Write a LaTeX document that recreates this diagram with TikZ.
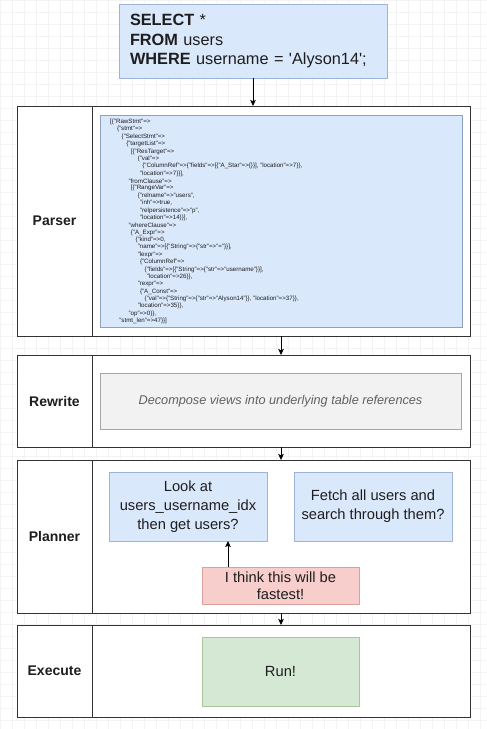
\documentclass[tikz,border=0pt]{standalone}
\usepackage{fontspec}
\setmainfont{Liberation Sans}
\usetikzlibrary{arrows.meta,calc}
\definecolor{blueF}{HTML}{DAE8FC}
\definecolor{blueD}{HTML}{9DB4D6}
\definecolor{redF}{HTML}{F8CECC}
\definecolor{redD}{HTML}{D9A09C}
\definecolor{greenF}{HTML}{D5E8D4}
\definecolor{greenD}{HTML}{A9C79B}
\definecolor{grayF}{HTML}{F2F2F2}
\definecolor{grayD}{HTML}{A6A6A6}
\definecolor{frameD}{HTML}{333333}
\definecolor{txt}{HTML}{1E1E1E}
\definecolor{gridC}{HTML}{F3F3F3}
\newcommand\astline[3]{\node[ast] (ast#2) at ({110+2.3*#1},{122+7.37*(#2-1)}) {#3};}
\begin{document}
\begin{tikzpicture}[x=1pt,y=-1pt,
  rbox/.style={anchor=north west, inner sep=0pt, outer sep=0pt, line width=0.7pt},
  frame/.style={rbox, draw=frameD, fill=white},
  area/.style={rbox, draw=none},
  bluebox/.style={rbox, draw=blueD, fill=blueF},
  redbox/.style={rbox, draw=redD, fill=redF},
  greenbox/.style={rbox, draw=greenD, fill=greenF},
  graybox/.style={rbox, draw=grayD, fill=grayF},
  boxtext/.style={font=\fontsize{14.7}{18.7}\selectfont, text=txt, align=center},
  lab/.style={font=\fontsize{14}{16}\selectfont\bfseries, text=txt},
  ast/.style={anchor=west, inner sep=0pt, font=\fontsize{6.2}{7}\selectfont, text=txt},
  arr/.style={draw=black, line width=0.8pt, -{Stealth[length=6pt,width=5.5pt,inset=1.2pt]}},
  divider/.style={draw=frameD, line width=0.7pt}
]
\useasboundingbox (0,0) rectangle (487,729);
\fill[white] (0,0) rectangle (487,729);
\draw[gridC, line width=0.5pt, step=12pt] (0,0) grid (487,729);

% SQL query
\node[bluebox, minimum width=268pt, minimum height=74pt, text width=246pt, align=left,
      font=\fontsize{16.3}{19.5}\selectfont, text=txt] (sql) at (119,4)
  {\textbf{SELECT} *\\ \textbf{FROM} users\\ \textbf{WHERE} username = \textquotesingle Alyson14\textquotesingle;};

% Sections
\node[frame, minimum width=453pt, minimum height=230pt] (parser) at (17,106) {};
\node[area, minimum width=378pt, minimum height=230pt] (parserC) at (92,106) {};
\node[frame, minimum width=453pt, minimum height=92pt] (rewrite) at (17,355) {};
\node[area, minimum width=378pt, minimum height=92pt] (rewriteC) at (92,355) {};
\node[frame, minimum width=453pt, minimum height=153pt] (planner) at (17,460) {};
\node[area, minimum width=378pt, minimum height=153pt] (plannerC) at (92,460) {};
\node[frame, minimum width=453pt, minimum height=92pt] (execute) at (17,625) {};
\node[area, minimum width=378pt, minimum height=92pt] (executeC) at (92,625) {};

\draw[divider] (parserC.north west) -- (parserC.south west);
\draw[divider] (rewriteC.north west) -- (rewriteC.south west);
\draw[divider] (plannerC.north west) -- (plannerC.south west);
\draw[divider] (executeC.north west) -- (executeC.south west);

\node[lab] (parserL) at ($(parser.north west)!0.5!(parserC.south west)$) {Parser};
\node[lab] (rewriteL) at ($(rewrite.north west)!0.5!(rewriteC.south west)$) {Rewrite};
\node[lab] (plannerL) at ($(planner.north west)!0.5!(plannerC.south west)$) {Planner};
\node[lab] (executeL) at ($(execute.north west)!0.5!(executeC.south west)$) {Execute};

% Parser AST
\node[bluebox, draw=blueD!90!black, minimum width=362pt, minimum height=212pt] (astbox) at (100,115) {};
\astline{0}{1}{[\{"RawStmt"=>}
\astline{3}{2}{\{"stmt"=>}
\astline{5}{3}{\{"SelectStmt"=>}
\astline{7}{4}{\{"targetList"=>}
\astline{9}{5}{[\{"ResTarget"=>}
\astline{12}{6}{\{"val"=>}
\astline{14}{7}{\{"ColumnRef"=>\{"fields"=>[\{"A\_Star"=>\{\}\}], "location"=>7\}\},}
\astline{13}{8}{"location"=>7\}\}],}
\astline{8}{9}{"fromClause"=>}
\astline{9}{10}{[\{"RangeVar"=>}
\astline{12}{11}{\{"relname"=>"users",}
\astline{13}{12}{"inh"=>true,}
\astline{13}{13}{"relpersistence"=>"p",}
\astline{13}{14}{"location"=>14\}\}],}
\astline{8}{15}{"whereClause"=>}
\astline{9}{16}{\{"A\_Expr"=>}
\astline{11}{17}{\{"kind"=>0,}
\astline{12}{18}{"name"=>[\{"String"=>\{"str"=>"="\}\}],}
\astline{12}{19}{"lexpr"=>}
\astline{13}{20}{\{"ColumnRef"=>}
\astline{15}{21}{\{"fields"=>[\{"String"=>\{"str"=>"username"\}\}],}
\astline{16}{22}{"location"=>26\}\},}
\astline{12}{23}{"rexpr"=>}
\astline{13}{24}{\{"A\_Const"=>}
\astline{15}{25}{\{"val"=>\{"String"=>\{"str"=>"Alyson14"\}\}, "location"=>37\}\},}
\astline{12}{26}{"location"=>35\}\},}
\astline{8}{27}{"op"=>0\}\},}
\astline{4}{28}{"stmt\_len"=>47\}\}]}

% Rewrite
\node[graybox, minimum width=361pt, minimum height=56pt,
      font=\fontsize{12.7}{15}\selectfont\itshape, text=black!62] (decomp) at (100,373)
  {Decompose views into underlying table references};

% Planner
\node[bluebox, boxtext, minimum width=158pt, minimum height=69pt] (look) at (109,472)
  {Look at\\ users\_username\_idx\\ then get users?};
\node[bluebox, boxtext, minimum width=158pt, minimum height=69pt] (fetch) at (294,472)
  {Fetch all users and\\ search through them?};
\node[redbox, boxtext, minimum width=157pt, minimum height=37pt,
      font=\fontsize{14.7}{17}\selectfont] (fast) at (202,567)
  {I think this will be\\ fastest!};

% Execute
\node[greenbox, boxtext, minimum width=157pt, minimum height=69pt] (run) at (202,637) {Run!};

% Connectors
\draw[arr] (sql.south) -- (sql.south |- parser.north);
\draw[arr] (parserC.south) -- (rewriteC.north);
\draw[arr] (rewriteC.south) -- (plannerC.north);
\draw[arr] (plannerC.south) -- (executeC.north);
\coordinate (ax) at (228,0);
\draw[arr] (fast.north -| ax) -- (look.south -| ax);
\end{tikzpicture}
\end{document}
